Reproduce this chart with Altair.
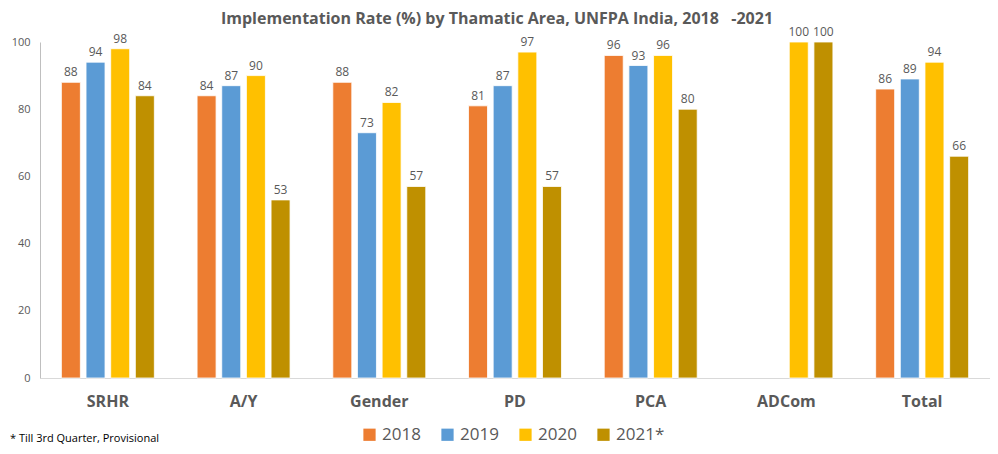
import altair as alt
import pandas as pd

areas = ["SRHR", "A/Y", "Gender", "PD", "PCA", "ADCom", "Total"]
years = ["2018", "2019", "2020", "2021*"]
v2018 = [88, 84, 88, 81, 96, None, 86]
v2019 = [94, 87, 73, 87, 93, None, 89]
v2020 = [98, 90, 82, 97, 96, 100, 94]
v2021 = [84, 53, 57, 57, 80, 100, 66]
colors = ["#ED7D31", "#5B9BD5", "#FFC000", "#BF9000"]
footnote = "* Till 3rd Quarter, Provisional"
title = "Implementation Rate (%) by Thamatic Area, UNFPA India, 2018\u00a0\u00a0\u00a0-2021"

rows = []
for yr, vals in zip(years, [v2018, v2019, v2020, v2021]):
    for a, v in zip(areas, vals):
        if v is not None:
            rows.append({"area": a, "year": yr, "value": v})
df = pd.DataFrame(rows)

FONT = "Open Sans"
GRAY = "#595959"

x = alt.X("area:N", sort=areas, title=None,
          scale=alt.Scale(paddingInner=0.315, paddingOuter=0.1575),
          axis=alt.Axis(labelAngle=0, labelFontWeight="bold", labelFontSize=16,
                        labelColor=GRAY, labelFont=FONT, ticks=False,
                        domainColor="#D9D9D9", labelPadding=15))
xo = alt.XOffset("year:N", sort=years,
                 scale=alt.Scale(paddingInner=0.23, paddingOuter=0))
y = alt.Y("value:Q", title=None,
          scale=alt.Scale(domain=[0, 100], nice=False),
          axis=alt.Axis(values=[0, 20, 40, 60, 80, 100], grid=False, ticks=False,
                        labelFontSize=11, labelColor=GRAY, labelFont=FONT,
                        domainColor="#BFBFBF", labelPadding=10))
color = alt.Color("year:N", sort=years,
                  scale=alt.Scale(domain=years, range=colors),
                  legend=alt.Legend(title=None, orient="none", direction="horizontal",
                                    legendX=321, legendY=384, symbolType="square",
                                    symbolSize=150, symbolStrokeWidth=0,
                                    labelFontSize=17, labelColor=GRAY, labelFont=FONT,
                                    columnPadding=18, symbolOpacity=1))

base = alt.Chart(df)
bars = base.mark_bar(stroke="white", strokeWidth=0.8).encode(x=x, xOffset=xo, y=y, color=color)
labels = base.mark_text(dy=-10, fontSize=12, color=GRAY, font=FONT).encode(
    x=x, xOffset=xo, y=y, text=alt.Text("value:Q", format="d"))

foot = alt.Chart(pd.DataFrame({"t": [footnote]})).mark_text(
    align="left", baseline="middle", fontSize=11, color="#000000", font=FONT
).encode(x=alt.value(-30), y=alt.value(397), text="t:N")

chart = alt.layer(bars, labels, foot).properties(
    width=950, height=336,
    title=alt.TitleParams(title, fontSize=16, fontWeight="bold", color=GRAY, font=FONT,
                          anchor="middle", dx=-18, offset=-1),
    autosize=alt.AutoSizeParams(type="none"),
    padding={"left": 32, "top": 34, "right": 0, "bottom": 66},
).configure_view(stroke=None)

chart.save("out.html", embed_options={"renderer": "svg", "actions": False})
